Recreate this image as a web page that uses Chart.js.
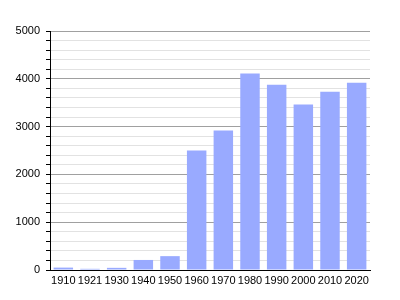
<!DOCTYPE html>
<html>
<head>
<meta charset="utf-8">
<script src="https://cdn.jsdelivr.net/npm/chart.js@4"></script>
<style>
  html, body { margin: 0; padding: 0; background: #fff; }
  #wrap { width: 400px; height: 300px; }
</style>
</head>
<body>
<div id="wrap"><canvas id="myChart" width="400" height="300"></canvas></div>
<script>
const years = ['1910', '1921', '1930', '1940', '1950', '1960', '1970', '1980', '1990', '2000', '2010', '2020'];
const population = [50, 25, 45, 210, 290, 2500, 2920, 4110, 3875, 3460, 3730, 3917];
const yMax = 5000;
const yStep = 200;

Chart.defaults.font.family = "'Liberation Sans', Arial, sans-serif";
Chart.defaults.font.size = 11;
Chart.defaults.color = '#000';

const ctx = document.getElementById('myChart').getContext('2d');
const myChart = new Chart(ctx, {
  type: 'bar',
  data: {
    labels: years,
    datasets: [{
      data: population,
      backgroundColor: '#99aaff',
      borderWidth: 0,
      categoryPercentage: 1,
      barPercentage: 0.73
    }]
  },
  options: {
    responsive: false,
    animation: false,
    layout: { padding: { top: 31, right: 30, left: 0, bottom: 0 } },
    plugins: { legend: { display: false }, tooltip: { enabled: false } },
    scales: {
      x: {
        grid: { display: false, drawTicks: false },
        border: { display: true, color: '#000', width: 1 },
        ticks: { padding: 4, maxRotation: 0, autoSkip: false },
        afterFit: (scale) => { scale.height = 30; }
      },
      y: {
        min: 0,
        max: yMax,
        ticks: {
          stepSize: yStep,
          autoSkip: false,
          padding: 6,
          callback: (v) => (v % 1000 === 0 ? v : '')
        },
        grid: {
          color: (c) => (c.tick && c.tick.value % 1000 === 0 ? '#a0a0a0' : '#e2e2e2'),
          tickColor: '#000',
          tickLength: 4
        },
        border: { display: true, color: '#000', width: 1 },
        afterFit: (scale) => { scale.width = 50; }
      }
    }
  }
});
</script>
</body>
</html>
